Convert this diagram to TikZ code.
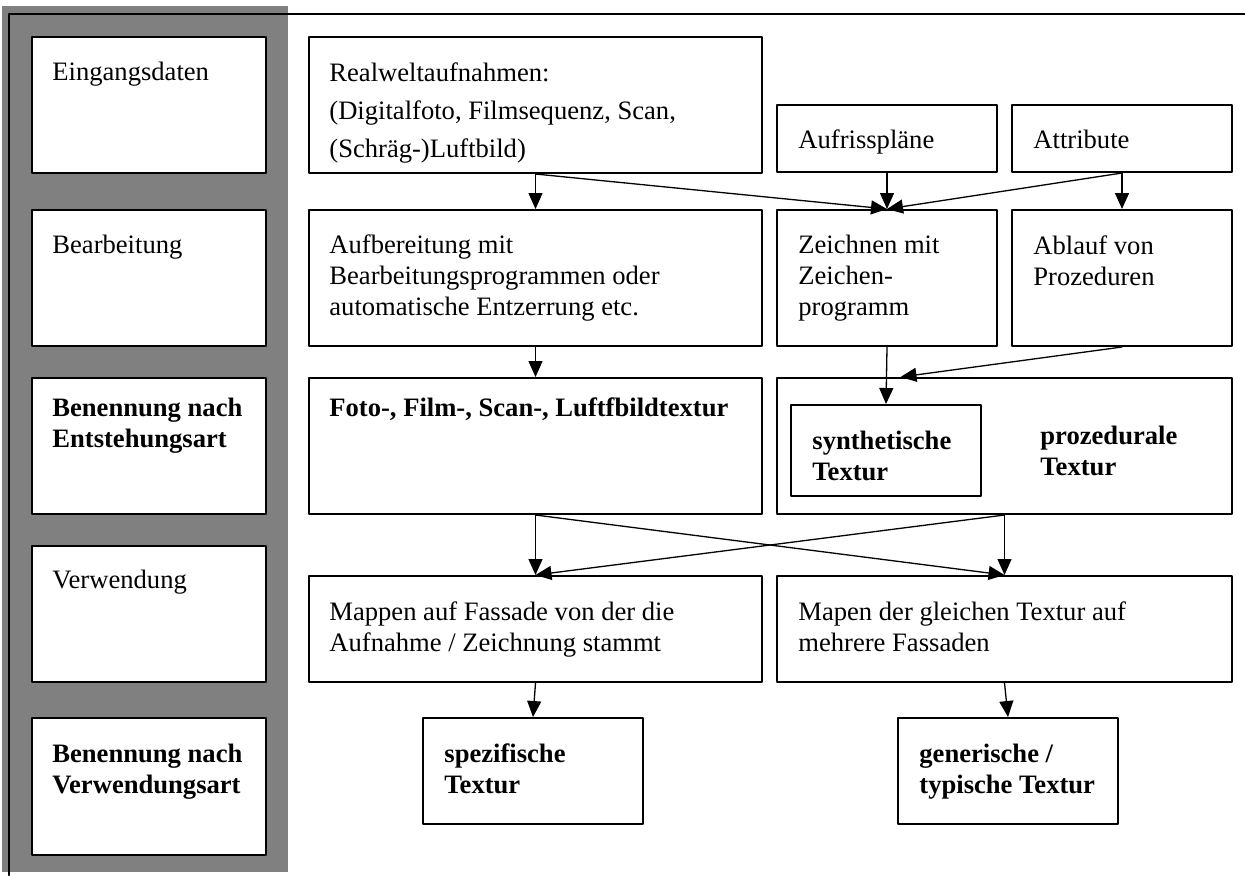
\documentclass[tikz,border=0pt]{standalone}
\usepackage{fontspec}
\setmainfont{Liberation Serif}
\usetikzlibrary{arrows.meta}

\definecolor{grau}{HTML}{808080}

\begin{document}
\begin{tikzpicture}[x=0.5pt, y=-0.5pt, line cap=round, line join=round]
  \def\u{0.5pt} % 1 Pixel = 0.5pt
  \tikzset{
    box/.style 2 args={draw=black, line width=1pt, fill=white, inner sep=0pt,
      minimum width=#1*\u, minimum height=#2*\u},
    txt/.style={anchor=base west, inner sep=0pt, align=left,
      font=\fontsize{13.3}{15.5}\selectfont},
    btxt/.style={txt, font=\fontsize{13.3}{15.5}\selectfont\bfseries},
    pfeil/.style={line width=0.65pt, -{Triangle[length=8pt, width=7pt]}}
  }
  \useasboundingbox (0,0) rectangle (1245,875);

  % grauer Balken und Rahmenlinien
  \fill[grau] (2,6) rectangle (288,872);
  \draw[line width=1.3pt] (9,875) -- (9,14) -- (1245,14);

  % linke Spalte (Textnodes: Grundlinie der letzten Zeile)
  \node[box={234}{136}] (eing) at (149,105) {};
  \node[box={234}{136}] (bearb) at (149,278) {};
  \node[box={234}{136}] (entst) at (149,446) {};
  \node[box={234}{136}] (verw) at (149,614) {};
  \node[box={234}{137}] (verwart) at (149,786.5) {};
  \node[txt] (eingT) at (52,80) {Eingangsdaten};
  \node[txt] (bearbT) at (52,253) {Bearbeitung};
  \node[btxt] (entstT) at (52,447) {Benennung nach\\Entstehungsart};
  \node[txt] (verwT) at (52,588) {Verwendung};
  \node[btxt] (verwartT) at (52,793) {Benennung nach\\Verwendungsart};

  % Eingangsdaten
  \node[box={453}{136}] (real) at (535.5,105) {};
  \node[box={220}{67}] (aufr) at (887,138.5) {};
  \node[box={220}{67}] (attr) at (1122,138.5) {};
  \node[txt, font=\fontsize{13.3}{19}\selectfont] (realT) at (329,157)
    {Realweltaufnahmen:\\(Digitalfoto, Filmsequenz, Scan,\\(Schräg-)Luftbild)};
  \node[txt] (aufrT) at (798,148) {Aufrisspläne};
  \node[txt] (attrT) at (1033,148) {Attribute};

  % Bearbeitung
  \node[box={453}{136}] (aufb) at (535.5,278) {};
  \node[box={220}{136}] (zeich) at (887,278) {};
  \node[box={220}{136}] (ablauf) at (1122,278) {};
  \node[txt] (aufbT) at (329,315)
    {Aufbereitung mit\\Bearbeitungsprogrammen oder\\automatische Entzerrung etc.};
  \node[txt] (zeichT) at (798,315) {Zeichnen mit\\Zeichen-\\programm};
  \node[txt] (ablaufT) at (1033,285) {Ablauf von\\Prozeduren};

  % Entstehungsart
  \node[box={453}{136}] (foto) at (535.5,446) {};
  \node[box={455}{136}] (proz) at (1004.5,446) {};
  \node[box={190}{91}] (synth) at (886,450.5) {};
  \node[btxt] (fotoT) at (329,416) {Foto-, Film-, Scan-, Luftfbildtextur};
  \node[btxt] (synthT) at (812,480) {synthetische\\Textur};
  \node[btxt] (prozT) at (1040,475) {prozedurale\\Textur};

  % Verwendung
  \node[box={453}{106}] (map1) at (535.5,629) {};
  \node[box={455}{106}] (map2) at (1004.5,629) {};
  \node[txt] (map1T) at (329,651) {Mappen auf Fassade von der die\\Aufnahme / Zeichnung stammt};
  \node[txt] (map2T) at (798,651) {Mapen der gleichen Textur auf\\mehrere Fassaden};

  % Verwendungsart
  \node[box={220}{106}] (spez) at (533,771) {};
  \node[box={220}{106}] (gen) at (1008,771) {};
  \node[btxt] (spezT) at (444,793) {spezifische\\Textur};
  \node[btxt] (genT) at (919,793) {generische /\\typische Textur};

  % Pfeile
  \draw[pfeil] (real.south) -- (aufb.north);
  \draw[pfeil] (real.south) -- (zeich.north);
  \draw[pfeil] (aufr.south) -- (zeich.north);
  \draw[pfeil] (attr.south) -- (zeich.north);
  \draw[pfeil] (attr.south) -- (ablauf.north);
  \draw[pfeil] (aufb.south) -- (foto.north);
  \draw[pfeil] (zeich.south) -- (synth.north);
  \draw[pfeil] (ablauf.south) -- ([xshift=-52pt]proz.north);
  \draw[pfeil] (foto.south) -- (map1.north);
  \draw[pfeil] (foto.south) -- (map2.north);
  \draw[pfeil] (proz.south) -- (map1.north);
  \draw[pfeil] (proz.south) -- (map2.north);
  \draw[pfeil] (map1.south) -- (spez.north);
  \draw[pfeil] (map2.south) -- (gen.north);
\end{tikzpicture}
\end{document}
